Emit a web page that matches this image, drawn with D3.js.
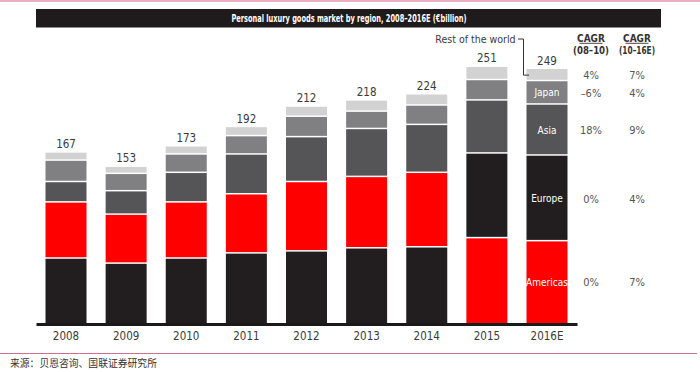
<!DOCTYPE html>
<html>
<head>
<meta charset="utf-8">
<script src="https://cdn.jsdelivr.net/npm/d3@7"></script>
<style>
  html, body { margin: 0; padding: 0; background: #fff; }
  svg { display: block; }
  .narrow { font-family: "Liberation Sans Narrow", "DejaVu Sans Condensed", "Arial Narrow", sans-serif; }
</style>
</head>
<body>
<svg id="chart" width="700" height="372"></svg>
<script>
const years = ["2008", "2009", "2010", "2011", "2012", "2013", "2014", "2015", "2016E"];
const totals = [167, 153, 173, 192, 212, 218, 224, 251, 249];
const europe = [63, 58, 63, 68, 70, 73, 74, 83, 84];
const americas = [55, 48, 55, 58, 68, 70, 73, 83, 80];
const asia = [20, 23, 29, 39, 44, 47, 47, 52, 50];
const japan = [21, 17, 18, 18, 20, 17, 19, 20, 23];
const rest = [8, 7, 8, 9, 10, 11, 11, 13, 12];
// which region sits at the bottom of each bar
const bottomRegion = ["Europe", "Europe", "Europe", "Europe", "Europe", "Europe", "Europe", "Americas", "Americas"];
const cagr0810 = { Rest: "4%", Japan: "\u20136%", Asia: "18%", Europe: "0%", Americas: "0%" };
const cagr1016 = { Rest: "7%", Japan: "4%", Asia: "9%", Europe: "4%", Americas: "7%" };

const regionValues = { Europe: europe, Americas: americas, Asia: asia, Japan: japan, Rest: rest };
const colors = { Europe: "#221e1f", Americas: "#ff0000", Asia: "#555557", Japan: "#808082", Rest: "#d2d2d2" };

const svg = d3.select("#chart");

// pink rules top and bottom
svg.append("rect").attr("x", 0).attr("y", 0).attr("width", 700).attr("height", 2).attr("fill", "#eab0bf");
svg.append("line").attr("x1", 0).attr("x2", 697).attr("y1", 353.5).attr("y2", 353.5)
  .attr("stroke", "#d0708a").attr("stroke-width", 1);

// title bar
svg.append("rect").attr("x", 36).attr("y", 9).attr("width", 625).attr("height", 18.5).attr("fill", "#1f1b1c");
svg.append("text").attr("class", "narrow")
  .attr("x", 349).attr("y", 22)
  .attr("text-anchor", "middle")
  .attr("fill", "#fff").attr("font-size", 11).attr("font-weight", "bold")
  .attr("textLength", 235).attr("lengthAdjust", "spacingAndGlyphs")
  .text("Personal luxury goods market by region, 2008\u20132016E (\u20acbillion)");

const x = d3.scaleBand().domain(years).range([36, 577]).paddingInner(0.318).paddingOuter(0.158);
const y = d3.scaleLinear().domain([0, 250]).range([323, 68]);

// build the stack for each year
const stacks = years.map((yr, i) => {
  const order = bottomRegion[i] === "Europe"
    ? ["Europe", "Americas", "Asia", "Japan", "Rest"]
    : ["Americas", "Europe", "Asia", "Japan", "Rest"];
  let base = 0;
  return order.map((r, j) => {
    const seg = { year: yr, region: r, y0: base, y1: base + regionValues[r][i], idx: j };
    base = seg.y1;
    return seg;
  });
});

const g = svg.append("g");
g.selectAll("g.bar").data(stacks).join("g").attr("class", "bar")
  .selectAll("rect").data(d => d).join("rect")
  .attr("x", d => x(d.year))
  .attr("width", x.bandwidth())
  .attr("y", d => y(d.y1))
  .attr("height", d => y(d.y0) - y(d.y1) - (d.idx > 0 ? 1.5 : 0))
  .attr("fill", d => colors[d.region]);

// totals
svg.selectAll("text.total").data(years).join("text")
  .attr("class", "total narrow")
  .attr("x", d => x(d) + x.bandwidth() / 2)
  .attr("y", (d, i) => y(totals[i]) - 4.5)
  .attr("text-anchor", "middle").attr("font-size", 11.5).attr("fill", "#3a3a3a")
  .text((d, i) => totals[i]);

// x axis
const axis = svg.append("g").attr("transform", "translate(0,324)")
  .call(d3.axisBottom(x).tickSize(0).tickPadding(8));
axis.select(".domain").attr("stroke", "#1a1a1a").attr("stroke-width", 3);
axis.selectAll("text").attr("class", "narrow").attr("font-size", 11.5).attr("fill", "#3a3a3a");

// labels inside the last bar and CAGR columns
const last = stacks[stacks.length - 1];
const lx = x(years[years.length - 1]) + x.bandwidth() / 2;
const names = { Japan: "Japan", Asia: "Asia", Europe: "Europe", Americas: "Americas" };
svg.selectAll("text.seg").data(last.filter(d => names[d.region])).join("text")
  .attr("class", "seg narrow")
  .attr("x", lx).attr("y", d => y((d.y0 + d.y1) / 2) + 3.5)
  .attr("text-anchor", "middle").attr("font-size", 10).attr("fill", "#fff")
  .text(d => names[d.region]);

const c1 = 591, c2 = 637;
svg.selectAll("text.cagr1").data(last).join("text")
  .attr("class", "cagr1 narrow")
  .attr("x", c1).attr("y", d => y((d.y0 + d.y1) / 2) + 4)
  .attr("text-anchor", "middle").attr("font-size", 11).attr("fill", "#555")
  .text(d => cagr0810[d.region]);
svg.selectAll("text.cagr2").data(last).join("text")
  .attr("class", "cagr2 narrow")
  .attr("x", c2).attr("y", d => y((d.y0 + d.y1) / 2) + 4)
  .attr("text-anchor", "middle").attr("font-size", 11).attr("fill", "#555")
  .text(d => cagr1016[d.region]);

[[c1, "(08\u201310)"], [c2, "(10\u201316E)"]].forEach(([cx, sub]) => {
  svg.append("text").attr("class", "narrow")
    .attr("x", cx).attr("y", 41.5).attr("text-anchor", "middle")
    .attr("font-size", 10).attr("font-weight", "bold").attr("fill", "#333")
    .text("CAGR");
  svg.append("line").attr("x1", cx - 11.5).attr("x2", cx + 11.5).attr("y1", 43.3).attr("y2", 43.3)
    .attr("stroke", "#333").attr("stroke-width", 0.9);
  svg.append("text").attr("class", "narrow")
    .attr("x", cx).attr("y", 53.5).attr("text-anchor", "middle")
    .attr("font-size", 10).attr("font-weight", "bold").attr("fill", "#333")
    .attr("textLength", 36).attr("lengthAdjust", "spacingAndGlyphs")
    .text(sub);
});

// "Rest of the world" callout
const restSeg = last.find(d => d.region === "Rest");
const ry = y((restSeg.y0 + restSeg.y1) / 2);
svg.append("text").attr("class", "narrow")
  .attr("x", 515.5).attr("y", 42.5).attr("text-anchor", "end")
  .attr("font-size", 10.5).attr("fill", "#3a3a3a")
  .text("Rest of the world");
svg.append("path")
  .attr("d", `M518,39H523.5V${ry}H${x(years[years.length - 1]) + 2.5}`)
  .attr("fill", "none").attr("stroke", "#333").attr("stroke-width", 1);

// source
svg.append("text")
  .attr("x", 10).attr("y", 366.5)
  .attr("font-family", "'Noto Sans CJK SC', sans-serif")
  .attr("font-size", 9.8).attr("fill", "#333")
  .text("来源：贝恩咨询、国联证券研究所");
</script>
</body>
</html>
